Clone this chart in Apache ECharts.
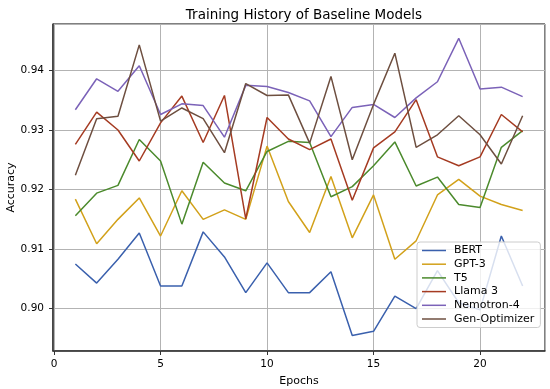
<!DOCTYPE html>
<html>
<head>
<meta charset="utf-8">
<script src="https://cdn.jsdelivr.net/npm/echarts@6/dist/echarts.min.js"></script>
<style>
html,body{margin:0;padding:0;background:#fff;}
#chart{width:550px;height:389px;}
</style>
</head>
<body>
<div id="chart"></div>
<script>
const epochs = [1,2,3,4,5,6,7,8,9,10,11,12,13,14,15,16,17,18,19,20,21,22];
const bert = [0.9075,0.9043,0.9083,0.9127,0.9038,0.9038,0.9129,0.9087,0.9027,0.9077,0.9027,0.9027,0.9062,0.8955,0.8962,0.9021,0.9000,0.9064,0.9010,0.8998,0.9122,0.9038];
const gpt3 = [0.9184,0.9109,0.9150,0.9186,0.9122,0.9198,0.9150,0.9166,0.9150,0.9273,0.9180,0.9128,0.9222,0.9119,0.9191,0.9083,0.9114,0.9191,0.9217,0.9189,0.9175,0.9165];
const t5 = [0.9156,0.9194,0.9207,0.9284,0.9248,0.9142,0.9246,0.9211,0.9198,0.9264,0.9281,0.9279,0.9188,0.9205,0.9240,0.9280,0.9206,0.9221,0.9175,0.9170,0.9271,0.9299];
const llama3 = [0.9276,0.9330,0.9300,0.9248,0.9312,0.9357,0.9279,0.9358,0.9151,0.9321,0.9285,0.9267,0.9285,0.9182,0.9270,0.9297,0.9351,0.9255,0.9240,0.9255,0.9326,0.9297];
const nemotron4 = [0.9334,0.9386,0.9365,0.9408,0.9326,0.9344,0.9341,0.9288,0.9375,0.9373,0.9363,0.9349,0.9289,0.9338,0.9343,0.9321,0.9354,0.9381,0.9454,0.9369,0.9372,0.9356];
const genOptimizer = [0.9224,0.9319,0.9323,0.9443,0.9315,0.9337,0.9319,0.9262,0.9378,0.9358,0.9359,0.9278,0.9390,0.9250,0.9343,0.9429,0.9271,0.9292,0.9324,0.9292,0.9243,0.9324];
const seriesNames = ['BERT','GPT-3','T5','Llama 3','Nemotron-4','Gen-Optimizer'];
const seriesValues = [bert, gpt3, t5, llama3, nemotron4, genOptimizer];
const colors = ['#3a60ad','#d2a11a','#4b8a2c','#a53b22','#7b62b8','#6e4f40'];
const xTickStep = 5;
const yTickStep = 0.01;

const FONT = 'DejaVu Sans';
const chart = echarts.init(document.getElementById('chart'), null, {renderer:'canvas'});

const series = seriesNames.map((n, i) => ({
  name: n, type: 'line', z: 3,
  data: epochs.map((e, j) => [e, seriesValues[i][j]]),
  symbol: 'none', showSymbol: false,
  lineStyle: {color: colors[i], width: 1.5},
  itemStyle: {color: colors[i]},
  emphasis: {disabled: true}
}));

const isStep = (v, s) => Math.abs(v / s - Math.round(v / s)) < 1e-6;

chart.setOption({
  animation: false,
  backgroundColor: '#fff',
  textStyle: {fontFamily: FONT},
  title: {
    text: 'Training History of Baseline Models',
    left: 299, top: 3, textAlign: 'center',
    textStyle: {fontFamily: FONT, fontSize: 13.5, fontWeight: 'normal', color: '#000'}
  },
  grid: {left: 53, right: 5, top: 24, bottom: 38, outerBoundsMode: 'none', containLabel: false,
    show: true, borderColor: '#000', borderWidth: 1, backgroundColor: 'transparent'},
  legend: {
    data: seriesNames,
    icon: 'path://M0,0h24v1.5h-24z',
    orient: 'vertical', left: 417, top: 242,
    padding: [3, 6, 3, 5],
    itemWidth: 24, itemHeight: 14, itemGap: 2.7,
    backgroundColor: 'rgba(255,255,255,0.8)',
    borderColor: '#cccccc', borderWidth: 1, borderRadius: 3,
    textStyle: {fontFamily: FONT, fontSize: 11, color: '#000', padding: [0,0,0,3]}
  },
  xAxis: {
    type: 'value', min: -0.05, max: 23.05,
    minInterval: xTickStep, maxInterval: xTickStep,
    name: 'Epochs', nameLocation: 'middle', nameGap: 25,
    nameTextStyle: {fontFamily: FONT, fontSize: 11, color: '#000'},
    axisLine: {show: true, onZero: false, lineStyle: {color: '#333', width: 1.5}},
    axisTick: {show: true, length: 4, lineStyle: {color: '#333'}},
    axisLabel: {fontFamily: FONT, fontSize: 10.5, color: '#000', margin: 8,
      showMinLabel: false, showMaxLabel: false,
      formatter: v => isStep(v, xTickStep) ? String(Math.round(v)) : ''},
    splitLine: {show: true, lineStyle: {color: '#b3b3b3', width: 1}}
  },
  yAxis: {
    type: 'value', min: 0.8929, max: 0.9478,
    minInterval: yTickStep, maxInterval: yTickStep,
    name: 'Accuracy', nameLocation: 'middle', nameGap: 36, nameMoveOverlap: false,
    nameTextStyle: {fontFamily: FONT, fontSize: 11, color: '#000'},
    axisLine: {show: true, onZero: false, lineStyle: {color: '#333', width: 1.5}},
    axisTick: {show: true, length: 4, lineStyle: {color: '#333'}},
    axisLabel: {fontFamily: FONT, fontSize: 10.5, color: '#000', margin: 9,
      showMinLabel: false, showMaxLabel: false,
      formatter: v => isStep(v, yTickStep) ? v.toFixed(2) : ''},
    splitLine: {show: true, lineStyle: {color: '#b3b3b3', width: 1}}
  },
  series: series
});
</script>
</body>
</html>
